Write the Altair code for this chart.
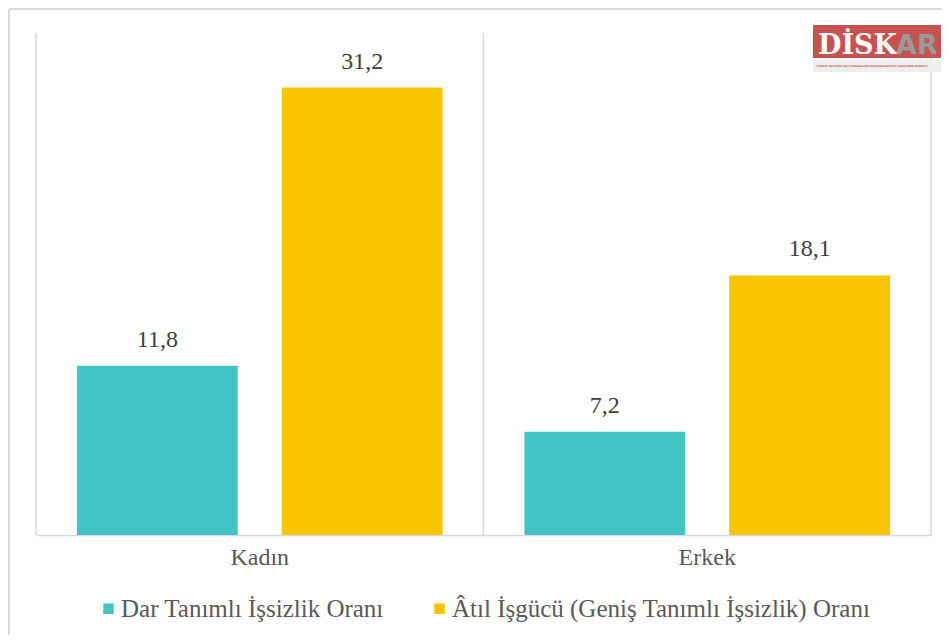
import altair as alt
import pandas as pd

categories = ["Kadın", "Erkek"]
series = ["Dar Tanımlı İşsizlik Oranı", "Âtıl İşgücü (Geniş Tanımlı İşsizlik) Oranı"]
dar_values = [11.8, 7.2]
atil_values = [31.2, 18.1]
colors = ["#43C3C4", "#F9C500"]

rows = []
for i, c in enumerate(categories):
    rows.append({"cat": c, "series": series[0], "value": dar_values[i]})
    rows.append({"cat": c, "series": series[1], "value": atil_values[i]})
df = pd.DataFrame(rows)
df["label"] = df["value"].map(lambda v: f"{v:.1f}".replace(".", ","))

FONT = "Liberation Serif"
TXT = "#595959"
GRID = "#D9D9D9"

x_enc = alt.X("cat:N", sort=categories, title=None,
              scale=alt.Scale(paddingInner=0, paddingOuter=0))
xoff = alt.XOffset("series:N", sort=series,
                   scale=alt.Scale(paddingInner=0.215, paddingOuter=0.2))
y_enc = alt.Y("value:Q", scale=alt.Scale(domain=[0, 35]), axis=None)

base = alt.Chart(df)

bars = base.mark_bar().encode(
    x=x_enc, xOffset=xoff, y=y_enc,
    color=alt.Color("series:N", sort=series,
                    scale=alt.Scale(domain=series, range=colors),
                    legend=alt.Legend(title=None, orient="none", direction="horizontal",
                                      legendX=60, legendY=563, symbolType="square",
                                      symbolSize=110, symbolStrokeWidth=0,
                                      labelFont=FONT, labelFontSize=25, labelColor=TXT,
                                      labelOffset=0, columnPadding=43, padding=0,
                                      labelLimit=600)),
)

labels = base.mark_text(baseline="bottom", dy=-14, font=FONT, fontSize=24, color="#404040").encode(
    x=x_enc, xOffset=xoff, y=y_enc, text="label:N"
)

cat_df = pd.DataFrame({"cat": categories})
grid_left = alt.Chart(cat_df).mark_rule(color=GRID, strokeWidth=1.5).encode(
    x=alt.X("cat:N", sort=categories, title=None, bandPosition=0)
)
grid_right = alt.Chart(cat_df.iloc[[-1]]).mark_rule(color=GRID, strokeWidth=1.5).encode(
    x=alt.X("cat:N", sort=categories, title=None, bandPosition=1)
)

one = alt.Data(values=[{"k": 1}])
border_top = alt.Chart(one).mark_rule(color=GRID, strokeWidth=2).encode(
    x=alt.value(-27), x2=alt.value(910), y=alt.value(-24))
border_left = alt.Chart(one).mark_rule(color=GRID, strokeWidth=2).encode(
    x=alt.value(-27), y=alt.value(-24), y2=alt.value(605))

logo_bg = alt.Chart(one).mark_rect(color="#C8524F").encode(
    x=alt.value(777), x2=alt.value(905), y=alt.value(-8), y2=alt.value(25))
logo_strip = alt.Chart(one).mark_rect(color="#EEEEEE").encode(
    x=alt.value(777), x2=alt.value(905), y=alt.value(27), y2=alt.value(39))
logo_disk = alt.Chart(one).mark_text(text="DİSK", font="DejaVu Serif", fontWeight="bold",
                                     fontSize=27, color="white", align="left", baseline="alphabetic").encode(
    x=alt.value(782), y=alt.value(21))
logo_ar = alt.Chart(one).mark_text(text="AR", font="DejaVu Sans", fontWeight="bold",
                                   fontSize=27, color="#9A9A9A", align="left", baseline="alphabetic").encode(
    x=alt.value(860), y=alt.value(21))
logo_sub = alt.Chart(one).mark_text(text="TÜRKİYE DEVRİMCİ İŞÇİ SENDİKALARI KONFEDERASYONU ARAŞTIRMA MERKEZİ",
                                    font="DejaVu Sans", fontSize=2.5, color="#C8524F", align="left",
                                    baseline="middle", fontWeight="bold").encode(
    x=alt.value(780), y=alt.value(33))

chart = alt.layer(
    grid_left, grid_right, bars, labels,
    border_top, border_left, logo_bg, logo_strip, logo_disk, logo_ar, logo_sub
).properties(
    width=895, height=502,
    autosize=alt.AutoSizeParams(type="none"),
    padding={"left": 28, "top": 25, "right": 11, "bottom": 100},
).configure_view(stroke=None).configure_axisX(
    labelFont=FONT, labelFontSize=24, labelColor=TXT, labelPadding=10,
    ticks=False, domainColor=GRID, domainWidth=1.5, labelAngle=0, grid=False, title=None
)

chart.save("out.html", embed_options={"renderer": "svg", "actions": False})
